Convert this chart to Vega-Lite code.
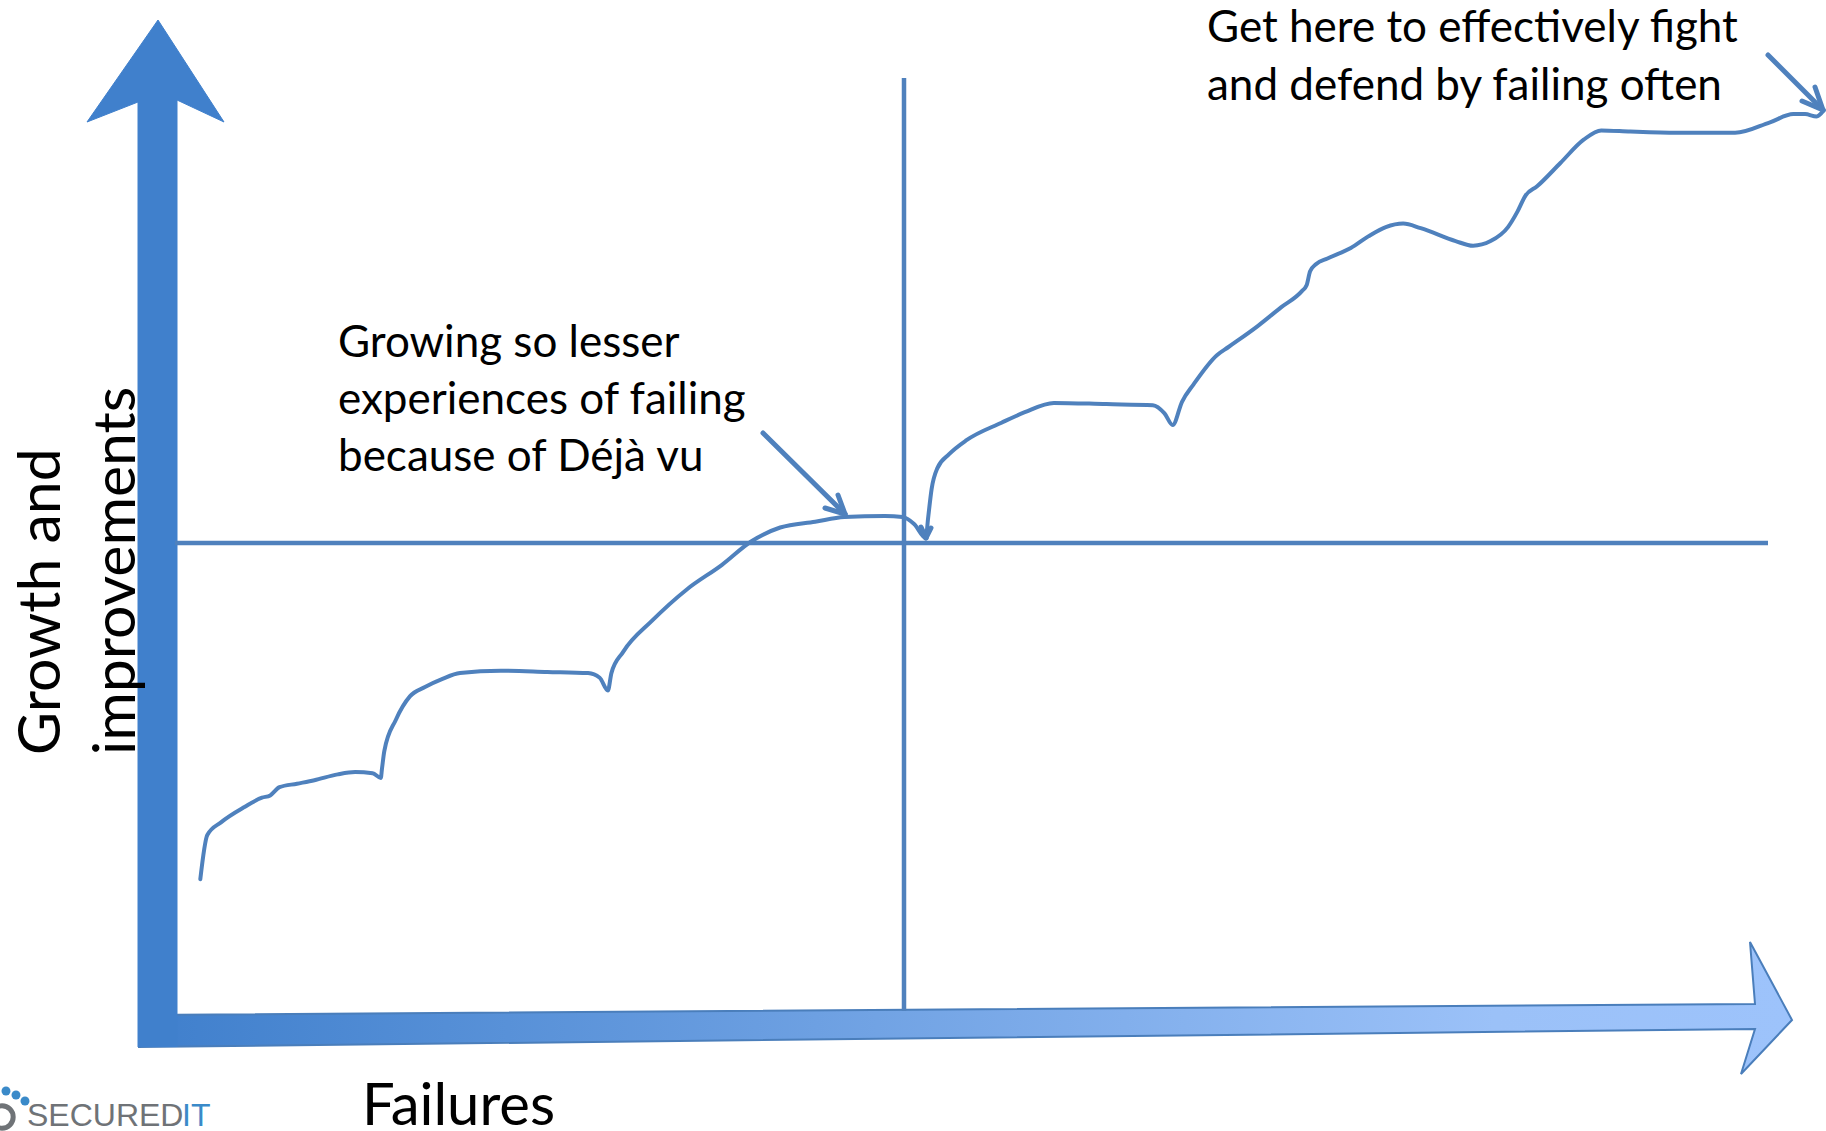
{
  "$schema": "https://vega.github.io/schema/vega-lite/v6.json",
  "width": 1826,
  "height": 1131,
  "autosize": {"type": "none"},
  "padding": 0,
  "background": "#ffffff",
  "view": {"stroke": null},
  "config": {"axis": {"disable": true}},
  "datasets": {
    "vert": [
      {"i": 0, "x": 138, "y": 1047},
      {"i": 1, "x": 138, "y": 102},
      {"i": 2, "x": 87, "y": 122},
      {"i": 3, "x": 158, "y": 20},
      {"i": 4, "x": 224, "y": 122},
      {"i": 5, "x": 177, "y": 100},
      {"i": 6, "x": 177, "y": 1047}
    ],
    "horiz": [
      {"i": 0, "x": 138, "y": 1015},
      {"i": 1, "x": 1755, "y": 1004},
      {"i": 2, "x": 1750, "y": 942},
      {"i": 3, "x": 1792, "y": 1020},
      {"i": 4, "x": 1741, "y": 1074},
      {"i": 5, "x": 1755, "y": 1029},
      {"i": 6, "x": 138, "y": 1047}
    ],
    "guides": [
      {"x": 175, "y": 543, "x2": 1768, "y2": 543},
      {"x": 904, "y": 78, "x2": 904, "y2": 1011}
    ],
    "arrows": [
      {"x": 763, "y": 433, "x2": 845, "y2": 514},
      {"x": 838, "y": 495, "x2": 845, "y2": 514},
      {"x": 825, "y": 508, "x2": 845, "y2": 514},
      {"x": 1768, "y": 55, "x2": 1823, "y2": 110},
      {"x": 1815, "y": 87, "x2": 1823, "y2": 110},
      {"x": 1802, "y": 101, "x2": 1823, "y2": 110},
      {"x": 921, "y": 527, "x2": 926, "y2": 538},
      {"x": 931, "y": 528, "x2": 926, "y2": 538}
    ],
    "curve": [
      {"i": 0, "x": 200.3, "y": 879.2},
      {"i": 1, "x": 207.3, "y": 835.0},
      {"i": 2, "x": 221.3, "y": 822.1},
      {"i": 3, "x": 244.5, "y": 807.0},
      {"i": 4, "x": 262.0, "y": 797.7},
      {"i": 5, "x": 270.2, "y": 795.4},
      {"i": 6, "x": 279.5, "y": 787.2},
      {"i": 7, "x": 297.0, "y": 783.7},
      {"i": 8, "x": 314.4, "y": 780.2},
      {"i": 9, "x": 337.7, "y": 774.4},
      {"i": 10, "x": 355.2, "y": 772.1},
      {"i": 11, "x": 372.6, "y": 773.2},
      {"i": 12, "x": 380.8, "y": 777.9},
      {"i": 13, "x": 382.0, "y": 768.6},
      {"i": 14, "x": 384.3, "y": 751.1},
      {"i": 15, "x": 395.9, "y": 719.7},
      {"i": 16, "x": 409.9, "y": 696.4},
      {"i": 17, "x": 425.0, "y": 687.1},
      {"i": 18, "x": 442.5, "y": 678.9},
      {"i": 19, "x": 460.0, "y": 673.1},
      {"i": 20, "x": 500.7, "y": 670.7},
      {"i": 21, "x": 547.3, "y": 671.9},
      {"i": 22, "x": 588.1, "y": 673.1},
      {"i": 23, "x": 599.7, "y": 677.7},
      {"i": 24, "x": 607.9, "y": 690.5},
      {"i": 25, "x": 611.4, "y": 673.1},
      {"i": 26, "x": 623.0, "y": 652.1},
      {"i": 27, "x": 652.1, "y": 620.7},
      {"i": 28, "x": 687.1, "y": 589.2},
      {"i": 29, "x": 722.0, "y": 564.8},
      {"i": 30, "x": 751.1, "y": 541.5},
      {"i": 31, "x": 780.2, "y": 527.5},
      {"i": 32, "x": 815.2, "y": 521.7},
      {"i": 33, "x": 844.3, "y": 517.0},
      {"i": 34, "x": 885.0, "y": 515.9},
      {"i": 35, "x": 902.5, "y": 517.0},
      {"i": 36, "x": 914.1, "y": 524.0},
      {"i": 37, "x": 925.8, "y": 538.0},
      {"i": 38, "x": 928.1, "y": 518.2},
      {"i": 39, "x": 931.6, "y": 489.1},
      {"i": 40, "x": 937.4, "y": 468.1},
      {"i": 41, "x": 949.1, "y": 454.2},
      {"i": 42, "x": 966.5, "y": 440.2},
      {"i": 43, "x": 1001.5, "y": 422.7},
      {"i": 44, "x": 1024.8, "y": 412.2},
      {"i": 45, "x": 1053.9, "y": 402.9},
      {"i": 46, "x": 1106.3, "y": 404.1},
      {"i": 47, "x": 1152.9, "y": 405.2},
      {"i": 48, "x": 1164.5, "y": 413.4},
      {"i": 49, "x": 1172.7, "y": 425.0},
      {"i": 50, "x": 1182.0, "y": 401.8},
      {"i": 51, "x": 1193.6, "y": 384.3},
      {"i": 52, "x": 1216.9, "y": 355.2},
      {"i": 53, "x": 1228.5, "y": 347.0},
      {"i": 54, "x": 1257.7, "y": 326.1},
      {"i": 55, "x": 1281.0, "y": 307.4},
      {"i": 56, "x": 1301.9, "y": 291.1},
      {"i": 57, "x": 1306.6, "y": 285.3},
      {"i": 58, "x": 1310.1, "y": 271.3},
      {"i": 59, "x": 1315.9, "y": 264.3},
      {"i": 60, "x": 1327.5, "y": 258.5},
      {"i": 61, "x": 1350.8, "y": 248.0},
      {"i": 62, "x": 1368.3, "y": 236.4},
      {"i": 63, "x": 1385.8, "y": 227.1},
      {"i": 64, "x": 1403.2, "y": 223.6},
      {"i": 65, "x": 1420.7, "y": 228.2},
      {"i": 66, "x": 1455.6, "y": 241.1},
      {"i": 67, "x": 1473.1, "y": 245.7},
      {"i": 68, "x": 1490.6, "y": 241.1},
      {"i": 69, "x": 1508.0, "y": 227.1},
      {"i": 70, "x": 1517.3, "y": 211.9},
      {"i": 71, "x": 1525.5, "y": 195.6},
      {"i": 72, "x": 1537.1, "y": 186.3},
      {"i": 73, "x": 1560.4, "y": 163.0},
      {"i": 74, "x": 1583.7, "y": 139.7},
      {"i": 75, "x": 1601.2, "y": 130.4},
      {"i": 76, "x": 1630.3, "y": 131.6},
      {"i": 77, "x": 1676.9, "y": 132.8},
      {"i": 78, "x": 1735.1, "y": 132.8},
      {"i": 79, "x": 1770.0, "y": 122.3},
      {"i": 80, "x": 1793.3, "y": 114.1},
      {"i": 81, "x": 1805.0, "y": 114.1},
      {"i": 82, "x": 1816.6, "y": 116.5},
      {"i": 83, "x": 1823.6, "y": 110.6}
    ],
    "notes": [
      {"x": 1207, "y": 42, "t": "Get here to effectively fight"},
      {"x": 1207, "y": 100, "t": "and defend by failing often"},
      {"x": 338, "y": 357, "t": "Growing so lesser"},
      {"x": 338, "y": 414, "t": "experiences of failing"},
      {"x": 338, "y": 471, "t": "because of Déjà vu"}
    ],
    "ytitle": [
      {"x": 60, "y": 755, "t": "Growth and"},
      {"x": 135, "y": 755, "t": "improvements"}
    ],
    "xtitle": [
      {"x": 362, "y": 1125, "t": "Failures"}
    ],
    "logo": [
      {"x": 27, "y": 1126, "t": "SECURED", "part": "a"},
      {"x": 182, "y": 1126, "t": "IT", "part": "b"}
    ],
    "dots": [
      {"x": 6, "y": 1091},
      {"x": 16, "y": 1095},
      {"x": 25, "y": 1101}
    ],
    "ring": [
      {"x": 2, "y": 1117}
    ]
  },
  "encoding": {
    "x": {"field": "x", "type": "quantitative", "scale": {"domain": [0, 1826], "nice": false, "zero": false}},
    "y": {"field": "y", "type": "quantitative", "scale": {"domain": [0, 1131], "nice": false, "zero": false, "reverse": true}}
  },
  "layer": [
    {
      "data": {"name": "horiz"},
      "mark": {"type": "line", "fill": {"gradient": "linear", "x1": 0, "x2": 1, "y1": 0, "y2": 0, "stops": [{"offset": 0, "color": "#3f7fcc"}, {"offset": 0.82, "color": "#9bc1f8"}, {"offset": 1, "color": "#9dc3fb"}]}, "stroke": "#4a7ebb", "strokeWidth": 2, "strokeJoin": "miter"},
      "encoding": {"order": {"field": "i", "type": "quantitative"}}
    },
    {
      "data": {"name": "vert"},
      "mark": {"type": "line", "fill": "#4080cc", "stroke": "#4080cc", "strokeWidth": 1},
      "encoding": {"order": {"field": "i", "type": "quantitative"}}
    },
    {
      "data": {"name": "guides"},
      "mark": {"type": "rule", "color": "#4f81bd", "strokeWidth": 4.5},
      "encoding": {"x2": {"field": "x2"}, "y2": {"field": "y2"}}
    },
    {
      "data": {"name": "curve"},
      "mark": {"type": "line", "color": "#4f81bd", "strokeWidth": 4, "interpolate": "monotone", "strokeCap": "round", "strokeJoin": "round"},
      "encoding": {"order": {"field": "i", "type": "quantitative"}}
    },
    {
      "data": {"name": "arrows"},
      "mark": {"type": "rule", "color": "#4f81bd", "strokeWidth": 5, "strokeCap": "round"},
      "encoding": {"x2": {"field": "x2"}, "y2": {"field": "y2"}}
    },
    {
      "data": {"name": "notes"},
      "mark": {"type": "text", "font": "Lato", "fontSize": 44, "align": "left", "baseline": "alphabetic", "color": "#000000"},
      "encoding": {"text": {"field": "t"}}
    },
    {
      "data": {"name": "ytitle"},
      "mark": {"type": "text", "font": "Lato", "fontSize": 59, "angle": 270, "align": "left", "baseline": "alphabetic", "color": "#000000"},
      "encoding": {"text": {"field": "t"}}
    },
    {
      "data": {"name": "xtitle"},
      "mark": {"type": "text", "font": "Lato", "fontSize": 58, "align": "left", "baseline": "alphabetic", "color": "#000000"},
      "encoding": {"text": {"field": "t"}}
    },
    {
      "data": {"name": "logo"},
      "mark": {"type": "text", "font": "Liberation Sans", "fontSize": 32, "align": "left", "baseline": "alphabetic"},
      "encoding": {
        "text": {"field": "t"},
        "color": {"field": "part", "type": "nominal", "scale": {"domain": ["a", "b"], "range": ["#6f7377", "#3a8ac9"]}, "legend": null}
      }
    },
    {
      "data": {"name": "dots"},
      "mark": {"type": "point", "filled": true, "color": "#3a8ac9", "size": 80, "opacity": 1},
      "encoding": {}
    },
    {
      "data": {"name": "ring"},
      "mark": {"type": "point", "filled": false, "color": "#6f7377", "size": 500, "strokeWidth": 5, "opacity": 1},
      "encoding": {}
    }
  ]
}
